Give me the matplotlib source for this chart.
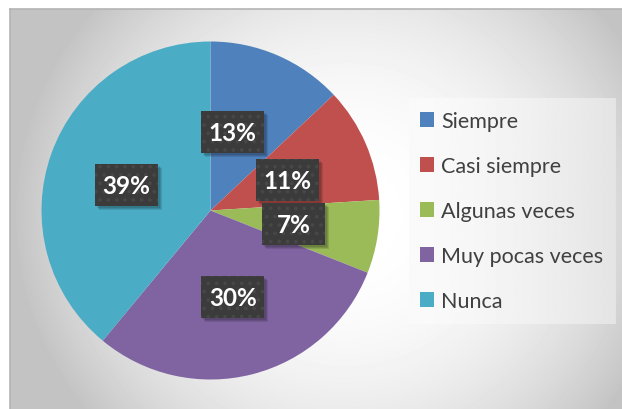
import numpy as np
import matplotlib
matplotlib.use("Agg")
import matplotlib.pyplot as plt
from matplotlib.patches import Patch, Rectangle

# ── datos ─────────────────────────────────────────
categorias = ["Siempre", "Casi siempre", "Algunas veces", "Muy pocas veces", "Nunca"]
porcentajes = [13, 11, 7, 30, 39]
colores = ["#4f81bd", "#c0504d", "#9bbb59", "#8064a2", "#4bacc6"]

# posición de las etiquetas (fracción del radio, ajuste de ángulo en grados)
etiqueta_r = [0.48, 0.49, 0.50, 0.53, 0.52]
etiqueta_giro = [-7.5, 2.0, 0.5, 0.0, -3.0]

W, H = 622, 410
plt.rcParams["font.family"] = ["Lato", "DejaVu Sans"]
plt.rcParams["hatch.linewidth"] = 1.5

fig = plt.figure(figsize=(W / 100, H / 100), dpi=100)
fig.patch.set_facecolor("white")


def px_ax(x0, y0, x1, y1, **kw):
    # caja en píxeles (origen arriba a la izquierda)
    return fig.add_axes([x0 / W, 1 - y1 / H, (x1 - x0) / W, (y1 - y0) / H], **kw)


# fondo con degradado radial
bg = px_ax(10, 10, W, H)
yy, xx = np.mgrid[10:H, 10:W]
d = np.hypot(xx - 345, (yy - 215) * 1.05) / 320
gris = 255 - np.minimum(60, 55 * d ** 2.3)
bg.imshow(gris, cmap="gray", vmin=0, vmax=255, aspect="auto", interpolation="bilinear")
bg.set_xticks([])
bg.set_yticks([])
for lado in ("right", "bottom"):
    bg.spines[lado].set_visible(False)
for lado in ("top", "left"):
    bg.spines[lado].set_color("#b4b4b4")
    bg.spines[lado].set_linewidth(1.2)

# pastel
ax = px_ax(41.5, 42.5, 379.5, 380.5)
ax.set_facecolor("none")
wedges, _ = ax.pie(porcentajes, colors=colores, startangle=90, counterclock=False,
                   radius=1, wedgeprops=dict(linewidth=0))
ax.set_xlim(-1, 1)
ax.set_ylim(-1, 1)
ax.set_aspect("equal")
ax.axis("off")

# etiquetas con caja oscura punteada
unidad = 2 / 338  # datos por píxel
bw, bh = 63 * unidad, 42 * unidad
acum = np.cumsum([0] + porcentajes)
for i, p in enumerate(porcentajes):
    medio = (acum[i] + acum[i + 1]) / 2 / 100 * 360 + etiqueta_giro[i]
    ang = np.deg2rad(90 - medio)
    x, y = etiqueta_r[i] * np.cos(ang), etiqueta_r[i] * np.sin(ang)
    for k in range(3):
        off = (2 + k) * unidad
        ax.add_patch(Rectangle((x - bw / 2 + off, y - bh / 2 - off), bw, bh,
                               facecolor="black", alpha=0.11, linewidth=0, zorder=3))
    ax.add_patch(Rectangle((x - bw / 2, y - bh / 2), bw, bh, facecolor="#3b3b3b",
                           edgecolor="#474747", hatch="..", linewidth=0, zorder=4))
    ax.text(x, y, f"{p}%", ha="center", va="center", color="white",
            fontsize=17.5, fontweight="bold", zorder=5)

# leyenda
lg = px_ax(409, 99, 616, 325)
gx = np.linspace(0, 1, 200)
lg.imshow(np.tile(250 - 22 * gx ** 1.5, (50, 1)), cmap="gray", vmin=0, vmax=255,
          aspect="auto", extent=(0, 1, 0, 1))
lg.set_xlim(0, 1)
lg.set_ylim(0, 1)
lg.axis("off")
handles = [Patch(facecolor=c, edgecolor="none") for c in colores]
lg.legend(handles, categorias, loc="center left", bbox_to_anchor=(0.0, 0.5),
          frameon=False, fontsize=15.5, labelcolor="#404040",
          handlelength=0.68, handleheight=0.68, handletextpad=0.3,
          labelspacing=1.16, borderpad=0.0, borderaxespad=0.5)

fig.savefig("out.png", dpi=100)
